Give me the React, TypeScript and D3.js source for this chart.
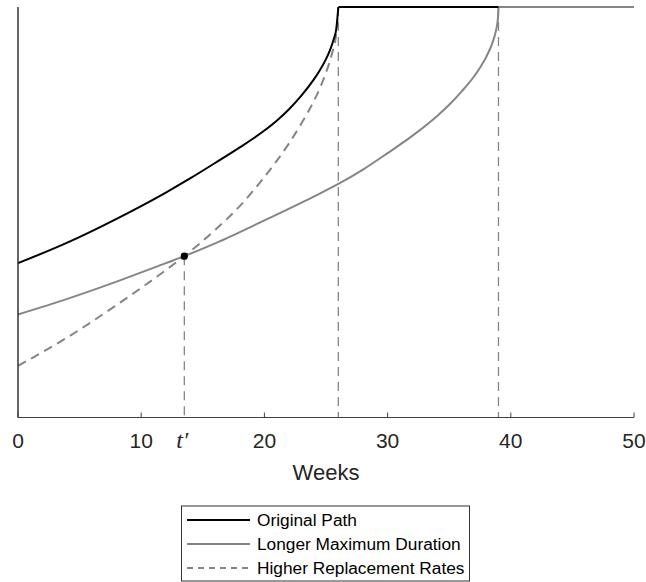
import React from "react";
import * as d3 from "d3";

// Weeks at which each path was sampled, and the path values (0 = bottom, 100 = cap)
const originalWeeks = [0, 4, 8, 12, 14, 16, 18, 20, 21, 22, 23, 24, 24.5, 25, 25.3, 25.6, 25.85, 26];
const originalValues = [37.6, 42.6, 48.4, 54.8, 58.3, 62.0, 65.8, 69.9, 72.3, 75.1, 78.4, 82.3, 84.6, 87.3, 89.3, 91.9, 95.0, 100];

const longerWeeks = [0, 4, 8, 12, 13.5, 16, 20, 24, 26, 28, 30, 32, 34, 35, 36, 37, 37.5, 38, 38.5, 38.8, 38.95, 39];
const longerValues = [25.1, 28.9, 33.1, 37.6, 39.3, 42.4, 48.0, 53.8, 56.9, 60.4, 64.4, 68.6, 73.4, 76.2, 79.4, 83.0, 85.2, 87.8, 91.2, 94.3, 97.1, 100];

const higherWeeks = [0, 4, 8, 12, 13.5, 16, 18, 20, 21, 22, 23, 24, 24.5, 25, 25.5, 25.8, 26];
const higherValues = [12.6, 19.5, 27.4, 35.9, 39.3, 45.7, 51.5, 58.6, 62.5, 66.8, 71.6, 77.0, 80.2, 84.0, 88.8, 92.8, 100];

// Benefit exhaustion weeks and the crossing point t'
const exhaustOriginal = 26;
const exhaustLonger = 39;
const crossWeek = 13.5;
const crossValue = 39.3;
const capValue = 100;
const endWeek = 50;

const tickValues = [0, 10, 20, 30, 40, 50];
const legendLabels = ["Original Path", "Longer Maximum Duration", "Higher Replacement Rates"];

const W = 646;
const H = 582;

export default function App() {
  const x = d3.scaleLinear().domain([0, 50]).range([18, 634]);
  const y = d3.scaleLinear().domain([0, 100]).range([417.5, 7]);

  const line = d3
    .line<[number, number]>()
    .x((d) => x(d[0]))
    .y((d) => y(d[1]))
    .curve(d3.curveMonotoneX);
  const straight = d3
    .line<[number, number]>()
    .x((d) => x(d[0]))
    .y((d) => y(d[1]));

  const zip = (a: number[], b: number[]) => a.map((w, i) => [w, b[i]] as [number, number]);

  const black = "#000";
  const grey = "#858585";
  const vDash = "9,6";

  const legendX = 181.5;
  const legendY = 506;
  const legendW = 288;
  const legendH = 75;
  const rowY = [520, 544, 568];
  const legendStyles = [
    { stroke: black, dash: undefined as string | undefined },
    { stroke: grey, dash: undefined },
    { stroke: grey, dash: "6,5" },
  ];

  return (
    <svg
      width={W}
      height={H}
      style={{ position: "absolute", left: 0, top: 0, background: "#fff" }}
      fontFamily="'Liberation Sans', Arial, sans-serif"
    >
      <rect x={0} y={0} width={W} height={H} fill="#fff" />

      {/* vertical guide lines */}
      <line x1={x(crossWeek)} x2={x(crossWeek)} y1={y(crossValue)} y2={y(0)} stroke={grey} strokeWidth={1.3} strokeDasharray={vDash} />
      <line x1={x(exhaustOriginal)} x2={x(exhaustOriginal)} y1={y(capValue)} y2={y(0)} stroke={grey} strokeWidth={1.3} strokeDasharray={vDash} />
      <line x1={x(exhaustLonger)} x2={x(exhaustLonger)} y1={y(capValue)} y2={y(0)} stroke={grey} strokeWidth={1.3} strokeDasharray={vDash} />

      {/* paths */}
      <path d={line(zip(higherWeeks, higherValues)) || ""} fill="none" stroke={grey} strokeWidth={2} strokeDasharray="9,6" />
      <path d={line(zip(longerWeeks, longerValues)) || ""} fill="none" stroke={grey} strokeWidth={2} />
      <path d={straight([[exhaustLonger, capValue], [endWeek, capValue]]) || ""} fill="none" stroke={grey} strokeWidth={2} />
      <path d={line(zip(originalWeeks, originalValues)) || ""} fill="none" stroke={black} strokeWidth={2} />
      <path d={straight([[exhaustOriginal, capValue], [exhaustLonger, capValue]]) || ""} fill="none" stroke={black} strokeWidth={2} />

      <circle cx={x(crossWeek)} cy={y(crossValue)} r={3.6} fill="#000" />

      {/* axes */}
      <line x1={x(0)} x2={x(0)} y1={y(capValue)} y2={y(0)} stroke="#262626" strokeWidth={1.4} />
      <line x1={x(0)} x2={x(50)} y1={y(0)} y2={y(0)} stroke="#404040" strokeWidth={1.2} />
      {tickValues.map((t) => (
        <g key={t}>
          <line x1={x(t)} x2={x(t)} y1={y(0)} y2={y(0) - 5} stroke="#404040" strokeWidth={1} />
          <text x={x(t)} y={448} textAnchor="middle" fontSize={21} fill="#262626">
            {t}
          </text>
        </g>
      ))}
      <text
        x={x(crossWeek) - 2}
        y={448}
        textAnchor="middle"
        fontSize={24}
        fontStyle="italic"
        fontFamily="'Liberation Serif', 'Times New Roman', serif"
        fill="#262626"
      >
        t′
      </text>
      <text x={x(25)} y={480} textAnchor="middle" fontSize={22} fill="#262626">
        Weeks
      </text>

      {/* legend */}
      <rect x={legendX} y={legendY} width={legendW} height={legendH} fill="#fff" stroke="#333" strokeWidth={1} />
      {legendLabels.map((label, i) => (
        <g key={label}>
          <line
            x1={187}
            x2={250}
            y1={rowY[i]}
            y2={rowY[i]}
            stroke={legendStyles[i].stroke}
            strokeWidth={2}
            strokeDasharray={legendStyles[i].dash}
          />
          <text x={257} y={rowY[i] + 6} fontSize={17.3} fill="#000">
            {label}
          </text>
        </g>
      ))}
    </svg>
  );
}
